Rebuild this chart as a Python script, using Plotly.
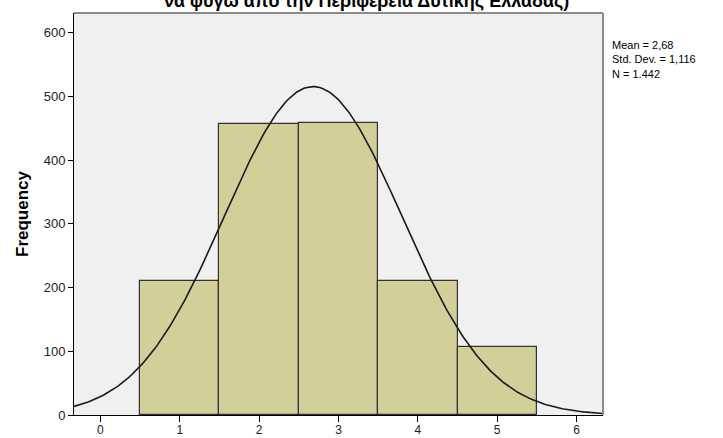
import numpy as np
import plotly.graph_objects as go

# Data
categories = [1, 2, 3, 4, 5]
frequencies = [211, 456, 458, 210, 107]
stat_mean = 2.68
stat_sd = 1.116
stat_n = 1442
x_tick_labels = ["0", "1", "2", "3", "4", "5", "6"]
y_tick_values = [0, 100, 200, 300, 400, 500, 600]
title_text = "να φύγω από την Περιφέρεια Δυτικής Ελλάδας)"
stats_lines = ["Mean = 2,68", "Std. Dev. = 1,116", "N = 1.442"]

FONT = "Arial, Liberation Sans, sans-serif"

# Normal curve from the displayed statistics
xr = (-1/3, 6 + 1/3)
xs = np.linspace(xr[0], xr[1], 300)
ys = stat_n * 1.0 / (stat_sd * np.sqrt(2 * np.pi)) * np.exp(-0.5 * ((xs - stat_mean) / stat_sd) ** 2)

L, R, T, B = 74, 120, 13, 23
PW, PH = 723 - L - R, 438 - T - B


def px_x(p):
    return (p - L) / PW


def px_y(p):
    return 1 - (p - T) / PH


fig = go.Figure()
fig.add_trace(go.Bar(
    x=categories, y=frequencies, width=1.0,
    marker=dict(color="#D3CF98", line=dict(color="#333333", width=1.2)),
    hoverinfo="x+y",
))
fig.add_trace(go.Scatter(
    x=xs, y=ys, mode="lines",
    line=dict(color="#1a1a1a", width=1.6),
    hoverinfo="skip",
))

annotations = [
    dict(text="<b>" + title_text + "</b>", xref="paper", yref="paper",
         x=px_x(366), y=px_y(1), xanchor="center", yanchor="middle",
         showarrow=False, font=dict(size=18, color="#000000", family=FONT)),
    dict(text="<b>Frequency</b>", xref="paper", yref="paper",
         x=px_x(22), y=px_y(214), xanchor="center", yanchor="middle",
         textangle=-90, showarrow=False,
         font=dict(size=17, color="#000000", family=FONT)),
    dict(text="<br>".join(stats_lines), xref="paper", yref="paper",
         x=px_x(610), y=px_y(37), xanchor="left", yanchor="top",
         align="left", showarrow=False,
         font=dict(size=11, color="#000000", family=FONT)),
]

fig.update_layout(
    width=723, height=438,
    margin=dict(l=L, r=R, t=T, b=B, autoexpand=False),
    paper_bgcolor="white",
    plot_bgcolor="#F0F0F0",
    showlegend=False,
    bargap=0,
    font=dict(family=FONT, size=13, color="#222222"),
    xaxis=dict(
        range=list(xr), tickvals=list(range(7)), ticktext=x_tick_labels,
        showgrid=False, zeroline=False, showline=True, linecolor="#000000", linewidth=1,
        ticks="outside", ticklen=6, tickcolor="#000000", tickwidth=1,
        tickfont=dict(size=12, color="#222222", family=FONT), automargin=False,
        ticklabelstandoff=-2,
    ),
    yaxis=dict(
        range=[0, 631], tickvals=y_tick_values,
        showgrid=False, zeroline=False, showline=True, linecolor="#000000", linewidth=1,
        ticks="outside", ticklen=5, tickcolor="#000000", tickwidth=1,
        tickfont=dict(size=13, color="#222222", family=FONT), automargin=False,
    ),
    shapes=[
        dict(type="line", xref="paper", yref="paper", x0=0, x1=1, y0=1, y1=1,
             line=dict(color="#8a8a8a", width=2)),
        dict(type="line", xref="paper", yref="paper", x0=1, x1=1, y0=0, y1=1,
             line=dict(color="#8a8a8a", width=2)),
    ],
    annotations=annotations,
)

fig.write_html("out.html", config={"displayModeBar": False},
               post_script="document.body.style.margin='0';document.body.style.overflow='hidden';")
